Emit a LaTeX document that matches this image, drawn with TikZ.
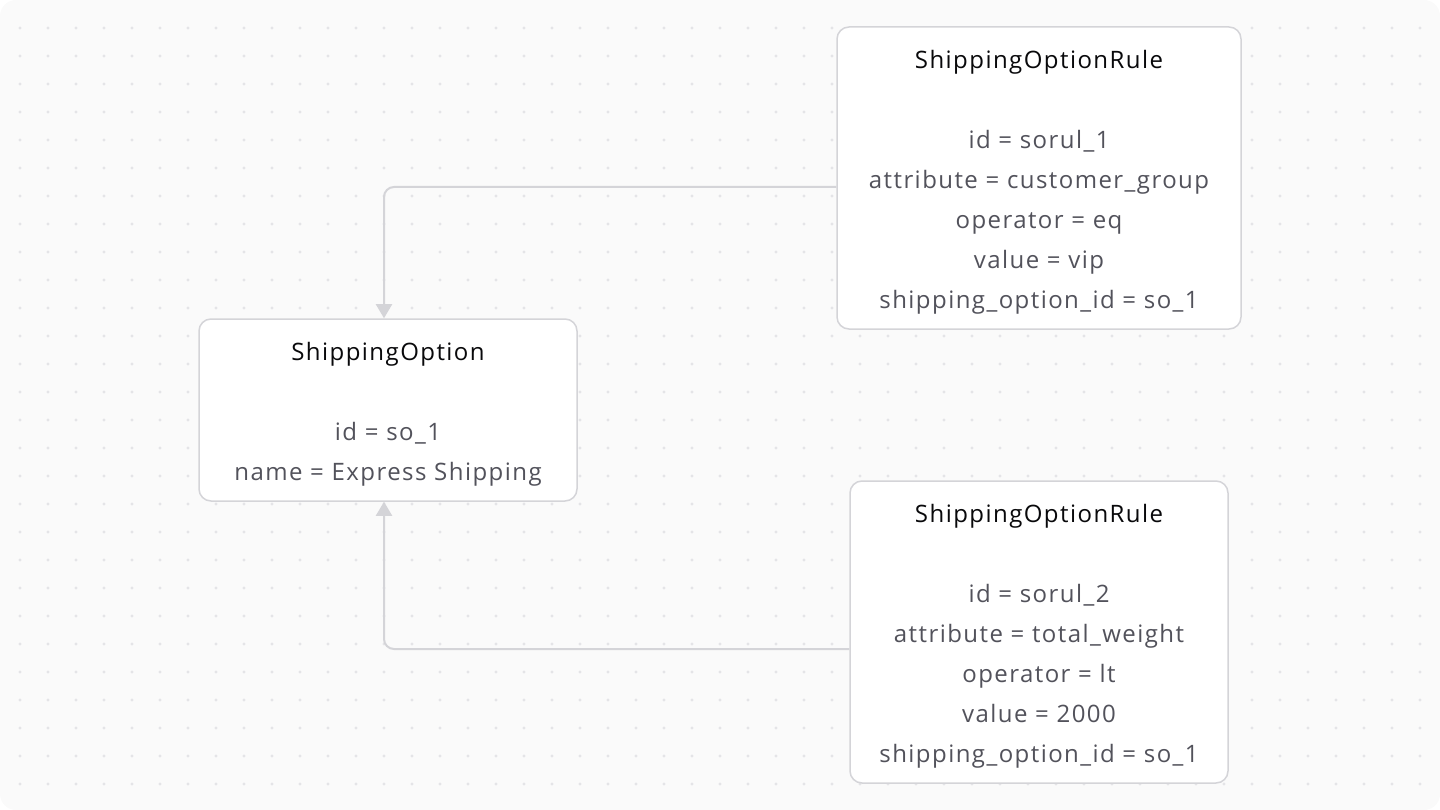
\documentclass[tikz,border=0pt]{standalone}
\usepackage{fontspec}
\setmainfont{Open Sans}[LetterSpace=6]
\usetikzlibrary{arrows.meta}
\definecolor{canvas}{HTML}{FAFAFA}
\definecolor{griddot}{HTML}{E4E4E7}
\definecolor{edge}{HTML}{D4D4D8}
\definecolor{titleink}{HTML}{09090B}
\definecolor{bodyink}{HTML}{52525B}
\newcommand{\toppad}{\rule{0pt}{26pt}}

\begin{document}
\begin{tikzpicture}[x=1pt,y=-1pt,
    entity/.style={draw=edge, line width=1.5pt, fill=white, rounded corners=12pt,
      minimum width=378pt, minimum height=302pt, inner sep=0pt, align=center,
      text=bodyink, font=\fontsize{24}{40}\selectfont},
    link/.style={draw=edge, line width=2pt, rounded corners=10pt,
      -{Triangle[width=16pt,length=14pt]}}]
  \useasboundingbox (0,0) rectangle (1440,810);
  \fill[canvas, rounded corners=16pt] (0,0) rectangle (1440,810);
  \foreach \gx in {20,48,...,1420}
    \foreach \gy in {28,56,...,784}
      \fill[griddot] (\gx,\gy) circle (1.6pt);

  \node[entity, minimum width=404pt] (rule1) at (1039,178)
    {\toppad{\color{titleink}ShippingOptionRule}\\[40pt]
     id = sorul\_1\\
     attribute = customer\_group\\
     operator = eq\\
     value = vip\\
     shipping\_option\_id = so\_1};
  \node[entity, minimum height=182pt] (option) at (388,410)
    {\toppad{\color{titleink}ShippingOption}\\[40pt]
     id = so\_1\\
     name = Express Shipping};
  \node[entity] (rule2) at (1039,632)
    {\toppad{\color{titleink}ShippingOptionRule}\\[40pt]
     id = sorul\_2\\
     attribute = total\_weight\\
     operator = lt\\
     value = 2000\\
     shipping\_option\_id = so\_1};

  \draw[link] ([yshift=-9pt]rule1.west) -| ([xshift=-4pt]option.north);
  \draw[link] ([yshift=-17pt]rule2.west) -| ([xshift=-4pt]option.south);
\end{tikzpicture}
\end{document}
